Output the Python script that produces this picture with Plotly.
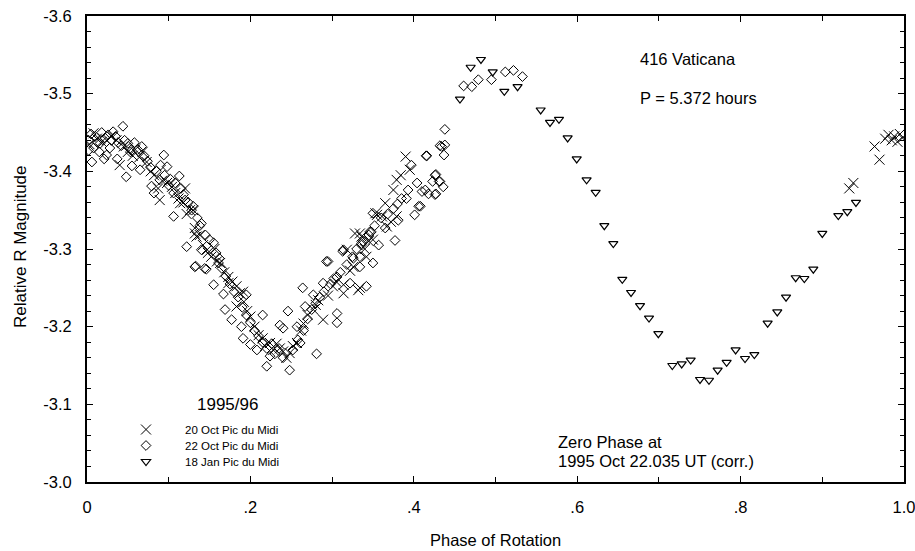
import plotly.graph_objects as go

# ---- data: 20 Oct Pic du Midi (crosses)
oct20_phase = [0.008, 0.024, 0.040, 0.059, 0.073, 0.087, 0.089, 0.104, 0.120, 0.114, 0.132, 0.134,
               0.147, 0.159, 0.173, 0.183, 0.191, 0.130, 0.126, 0.132, 0.148, 0.163, 0.173, 0.187,
               0.183, 0.200, 0.210, 0.224, 0.236, 0.248, 0.257, 0.265, 0.277, 0.289, 0.283, 0.301,
               0.314, 0.326, 0.334, 0.334, 0.350, 0.355, 0.318, 0.328, 0.336, 0.353, 0.365, 0.375,
               0.379, 0.390, 0.395, 0.367, 0.379, 0.314, 0.332, 0.342, 0.361,
               0.964, 0.970, 0.933, 0.938, 0.977, 0.981, 0.985, 0.988, 0.992, 0.995, 0.998,
               0.003, 0.012, 0.018, 0.030, 0.036, 0.045, 0.050, 0.056, 0.064, 0.068, 0.078, 0.082,
               0.092, 0.098, 0.108, 0.112, 0.118, 0.122, 0.138, 0.142, 0.152, 0.156, 0.168, 0.178,
               0.192, 0.196, 0.205, 0.215, 0.218, 0.228, 0.232, 0.240, 0.244, 0.252, 0.262, 0.270,
               0.280, 0.295, 0.305, 0.322, 0.340, 0.345, 0.372, 0.384]
oct20_mag = [-3.449, -3.440, -3.408, -3.428, -3.412, -3.378, -3.363, -3.380, -3.378, -3.359, -3.327, -3.316,
             -3.299, -3.284, -3.264, -3.252, -3.245, -3.350, -3.350, -3.320, -3.295, -3.282, -3.256, -3.243,
             -3.226, -3.213, -3.189, -3.179, -3.172, -3.166, -3.179, -3.204, -3.222, -3.209, -3.234, -3.252,
             -3.254, -3.277, -3.250, -3.320, -3.312, -3.344, -3.299, -3.320, -3.316, -3.346, -3.359, -3.376,
             -3.389, -3.419, -3.402, -3.329, -3.342, -3.243, -3.247, -3.290, -3.342,
             -3.432, -3.415, -3.378, -3.385, -3.442, -3.447, -3.440, -3.445, -3.438, -3.448, -3.443,
             -3.435, -3.442, -3.438, -3.445, -3.440, -3.432, -3.425, -3.420, -3.418, -3.425, -3.400, -3.395,
             -3.388, -3.385, -3.372, -3.365, -3.360, -3.345, -3.318, -3.305, -3.290, -3.300, -3.270, -3.258,
             -3.232, -3.220, -3.200, -3.185, -3.175, -3.170, -3.178, -3.168, -3.160, -3.175, -3.195, -3.215,
             -3.228, -3.240, -3.258, -3.272, -3.300, -3.310, -3.335, -3.395]

# ---- data: 22 Oct Pic du Midi (diamonds)
oct22_phase = [0.044, 0.032, 0.006, 0.021, 0.037, 0.048, 0.055, 0.065, 0.067, 0.094, 0.098, 0.079,
               0.082, 0.113, 0.106, 0.106, 0.122, 0.133, 0.144, 0.155, 0.155, 0.167, 0.195, 0.140,
               0.161, 0.130, 0.120, 0.089, 0.100, 0.053, 0.016,
               0.140, 0.132, 0.146, 0.169, 0.177, 0.189, 0.215, 0.191, 0.200, 0.208, 0.220, 0.224,
               0.236, 0.246, 0.248, 0.240, 0.257, 0.261, 0.281, 0.264, 0.277, 0.267, 0.293, 0.289,
               0.306, 0.306, 0.314, 0.326, 0.336, 0.342, 0.322, 0.306, 0.334, 0.346, 0.350,
               0.295, 0.313, 0.334, 0.350, 0.336, 0.357, 0.377, 0.348, 0.365, 0.381, 0.401, 0.406,
               0.391, 0.393, 0.404, 0.414, 0.426, 0.426, 0.432, 0.436, 0.415, 0.432, 0.438, 0.437,
               0.438, 0.397,
               0.408, 0.416, 0.434, 0.427, 0.423, 0.431, 0.427, 0.418, 0.410,
               0.461, 0.471, 0.479, 0.495, 0.512, 0.522, 0.533,
               0.002, 0.005, 0.010, 0.013, 0.018, 0.022, 0.026, 0.030, 0.035, 0.038, 0.042, 0.046,
               0.050, 0.053, 0.058, 0.062, 0.002, 0.008, 0.015, 0.024, 0.028, 0.070, 0.074, 0.078,
               0.085, 0.090, 0.095, 0.102, 0.108, 0.115, 0.118, 0.124, 0.128, 0.135, 0.138, 0.145,
               0.150, 0.158, 0.162, 0.165, 0.170, 0.175, 0.180, 0.185, 0.190, 0.195, 0.200, 0.205,
               0.210, 0.215, 0.220, 0.226, 0.230, 0.235, 0.240, 0.252, 0.258, 0.265, 0.270, 0.275,
               0.280, 0.285, 0.290, 0.298, 0.302, 0.310, 0.318, 0.325, 0.330, 0.338, 0.345, 0.352,
               0.360, 0.368, 0.375, 0.380, 0.385]
oct22_mag = [-3.458, -3.451, -3.412, -3.416, -3.416, -3.393, -3.407, -3.402, -3.432, -3.421, -3.406, -3.381,
             -3.372, -3.394, -3.372, -3.342, -3.303, -3.278, -3.275, -3.308, -3.254, -3.242, -3.241, -3.299,
             -3.282, -3.355, -3.363, -3.389, -3.382, -3.425, -3.436,
             -3.333, -3.277, -3.274, -3.222, -3.209, -3.200, -3.215, -3.185, -3.177, -3.170, -3.149, -3.162,
             -3.202, -3.220, -3.144, -3.198, -3.200, -3.179, -3.165, -3.250, -3.241, -3.226, -3.284, -3.256,
             -3.217, -3.205, -3.299, -3.288, -3.305, -3.252, -3.256, -3.264, -3.277, -3.322, -3.346,
             -3.284, -3.297, -3.290, -3.282, -3.307, -3.305, -3.311, -3.322, -3.327, -3.337, -3.344, -3.355,
             -3.365, -3.376, -3.385, -3.376, -3.370, -3.395, -3.387, -3.380, -3.420, -3.433, -3.434, -3.421,
             -3.454, -3.408,
             -3.355, -3.420, -3.432, -3.396, -3.387, -3.387, -3.371, -3.371, -3.374,
             -3.510, -3.509, -3.518, -3.518, -3.528, -3.530, -3.522,
             -3.440, -3.448, -3.445, -3.437, -3.450, -3.443, -3.447, -3.440, -3.445, -3.437, -3.433, -3.440,
             -3.436, -3.430, -3.437, -3.428, -3.427, -3.430, -3.425, -3.421, -3.430, -3.420, -3.413, -3.405,
             -3.400, -3.408, -3.395, -3.390, -3.385, -3.378, -3.370, -3.360, -3.350, -3.340, -3.330, -3.318,
             -3.312, -3.295, -3.288, -3.275, -3.265, -3.255, -3.245, -3.238, -3.225, -3.215, -3.205, -3.195,
             -3.188, -3.180, -3.172, -3.178, -3.165, -3.172, -3.160, -3.170, -3.183, -3.195, -3.210, -3.222,
             -3.230, -3.238, -3.245, -3.255, -3.262, -3.270, -3.280, -3.290, -3.300, -3.310, -3.318, -3.330,
             -3.340, -3.345, -3.352, -3.358, -3.365]

# ---- data: 18 Jan Pic du Midi (triangles)
jan18_phase = [0.4565, 0.4696, 0.4822, 0.4966, 0.5108, 0.527, 0.5553, 0.5667, 0.5777, 0.5883, 0.5994,
               0.6115, 0.6226, 0.6332, 0.6442, 0.6552, 0.6659, 0.6769, 0.6879, 0.6993, 0.7164, 0.7279,
               0.7389, 0.7503, 0.7613, 0.7719, 0.7829, 0.7939, 0.8054, 0.8168, 0.8331, 0.8449, 0.8556,
               0.8674, 0.8780, 0.8890, 0.9000, 0.9196, 0.9306, 0.9412]
jan18_mag = [-3.493, -3.534, -3.544, -3.528, -3.503, -3.509, -3.479, -3.463, -3.467, -3.443, -3.416,
             -3.389, -3.373, -3.330, -3.307, -3.261, -3.244, -3.227, -3.211, -3.191, -3.150, -3.152,
             -3.157, -3.132, -3.131, -3.144, -3.154, -3.170, -3.159, -3.164, -3.2045, -3.219, -3.238,
             -3.263, -3.262, -3.274, -3.320, -3.343, -3.348, -3.360]

series_names = ["20 Oct Pic du Midi", "22 Oct Pic du Midi", "18 Jan Pic du Midi"]
x_tickvals = [0, 0.2, 0.4, 0.6, 0.8, 1.0]
x_ticktext = ["0", ".2", ".4", ".6", ".8", "1.0"]
y_tickvals = [-3.6, -3.5, -3.4, -3.3, -3.2, -3.1, -3.0]
y_ticktext = ["-3.6", "-3.5", "-3.4", "-3.3", "-3.2", "-3.1", "-3.0"]

FONT = "Arial, 'Liberation Sans', Helvetica, sans-serif"
W, H = 915, 551
ML, MR, MT, MB = 87, 11, 16, 69
PW, PH = W - ML - MR, H - MT - MB


def px_x(p):   # pixel -> paper x
    return (p - ML) / PW


def px_y(p):   # pixel -> paper y
    return (H - MB - p) / PH


fig = go.Figure()
fig.add_trace(go.Scatter(x=oct20_phase, y=oct20_mag, mode="markers", name=series_names[0],
                         legend="legend",
                         marker=dict(symbol="x-thin-open", size=10, color="black",
                                     line=dict(color="black", width=1))))
fig.add_trace(go.Scatter(x=oct22_phase, y=oct22_mag, mode="markers", name=series_names[1],
                         legend="legend2",
                         marker=dict(symbol="diamond-open", size=7.5, color="black",
                                     line=dict(color="black", width=1))))
fig.add_trace(go.Scatter(x=jan18_phase, y=jan18_mag, mode="markers", name=series_names[2],
                         legend="legend3",
                         marker=dict(symbol="triangle-down-open", size=8, color="black",
                                     line=dict(color="black", width=1.2))))

axis_common = dict(showgrid=False, zeroline=False, showline=True, linecolor="black", linewidth=2,
                   mirror="ticks", ticks="inside", tickcolor="black", tickwidth=1, ticklen=6,
                   automargin=False, ticklabeloverflow="allow",
                   tickfont=dict(family=FONT, size=16.5, color="black"))

fig.update_xaxes(range=[0, 1.0], tickvals=x_tickvals, ticktext=x_ticktext,
                 minor=dict(dtick=0.1, tick0=0, ticks="inside", ticklen=5, tickcolor="black"),
                 ticklabelstandoff=9, **axis_common)
fig.update_yaxes(range=[-3.0, -3.6], tickvals=y_tickvals, ticktext=y_ticktext,
                 minor=dict(dtick=0.02, tick0=-3.6, ticks="inside", ticklen=4, tickcolor="black"),
                 ticklabelstandoff=10, **axis_common)

TXT = dict(family=FONT, size=16.5, color="black")
annotations = [
    dict(text="Phase of Rotation", xref="paper", yref="paper", x=px_x(495), y=px_y(540),
         xanchor="center", yanchor="middle", showarrow=False, font=TXT),
    dict(text="Relative R Magnitude", xref="paper", yref="paper", x=px_x(20), y=px_y(247),
         xanchor="center", yanchor="middle", textangle=-90, showarrow=False,
         font=dict(family=FONT, size=17, color="black")),
    dict(text="416 Vaticana", xref="paper", yref="paper", x=px_x(638), y=px_y(59),
         xanchor="left", yanchor="middle", showarrow=False, font=TXT),
    dict(text="P = 5.372 hours", xref="paper", yref="paper", x=px_x(638), y=px_y(98),
         xanchor="left", yanchor="middle", showarrow=False, font=TXT),
    dict(text="1995/96", xref="paper", yref="paper", x=px_x(227), y=px_y(404),
         xanchor="center", yanchor="middle", showarrow=False,
         font=dict(family=FONT, size=17, color="black")),
    dict(text="Zero Phase at", xref="paper", yref="paper", x=px_x(556), y=px_y(442),
         xanchor="left", yanchor="middle", showarrow=False, font=TXT),
    dict(text="1995 Oct 22.035 UT (corr.)", xref="paper", yref="paper", x=px_x(556), y=px_y(461),
         xanchor="left", yanchor="middle", showarrow=False, font=TXT),
]

LEG_FONT = dict(family=FONT, size=11.5, color="black")
ITEMW = 68
leg_x = px_x(146 - (ITEMW + 10) / 2)


def leg(center_y):
    return dict(x=leg_x, y=px_y(center_y - 14), xanchor="left", yanchor="top",
                bgcolor="rgba(0,0,0,0)", font=LEG_FONT, itemwidth=ITEMW)


fig.update_layout(
    width=W, height=H,
    margin=dict(l=ML, r=MR, t=MT, b=MB),
    plot_bgcolor="white", paper_bgcolor="white",
    font=dict(family=FONT, size=16.5, color="black"),
    annotations=annotations,
    showlegend=True,
    legend=leg(429),
    legend2=leg(445),
    legend3=leg(461),
)

fig.write_html("out.html")
